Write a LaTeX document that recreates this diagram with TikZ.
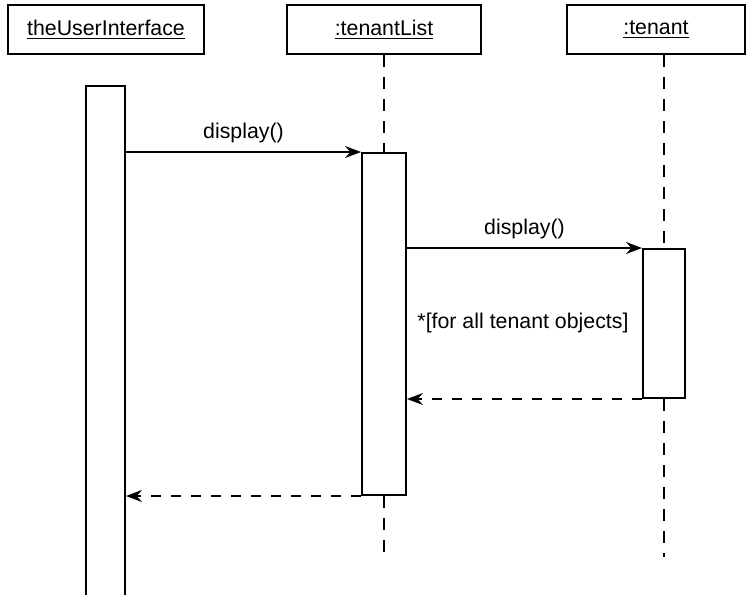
\documentclass[tikz,border=0pt]{standalone}
\usepackage{fontspec}
\setmainfont{Liberation Sans}
\usepackage{tikz}
\usetikzlibrary{arrows.meta, positioning}

\begin{document}
\begin{tikzpicture}[
  x=0.75pt,y=-0.75pt,
  every node/.style={font=\fontsize{16}{19}\selectfont},
  head/.style={draw, line width=1.5pt, minimum height=36.75pt, inner sep=0pt},
  act/.style={draw, line width=1.5pt, fill=white, inner sep=0pt},
  life/.style={line width=1.5pt, dash pattern=on 9pt off 7.5pt},
  call/.style={-{Stealth[length=12pt, width=9pt, inset=4pt]}, line width=1.5pt},
  ret/.style={-{Stealth[length=12pt, width=9pt, inset=4pt]}, line width=1.5pt, dash pattern=on 7.5pt off 7.5pt}
]
\useasboundingbox (0,0) rectangle (754,594);

% object heads
\node[head, minimum width=147pt] (uihead) at (106,29.5) {\underline{theUserInterface}};
\node[head, minimum width=145.5pt] (tlhead) at (384,29.5) {\underline{:tenantList}};
\node[head, minimum width=133.5pt] (thead) at (656,29.5) {\underline{:tenant}};

% activation bars
\node[act, minimum width=29.25pt, minimum height=393pt] (uiact) at (105.5,348) {};
\node[act, minimum width=33pt, minimum height=256.5pt] (tlact) at (384,324) {};
\node[act, minimum width=31.5pt, minimum height=111.75pt] (tact) at (664,323.5) {};

\coordinate (tlend) at (384,557);
\coordinate (tend) at (664,557);

% lifelines
\draw[life] (tlhead.south) -- (tlact.north);
\draw[life] (tlact.south) -- (tlend);
\draw[life] (tact.north |- thead.south) -- (tact.north);
\draw[life] (tact.south) -- (tend);

% messages
\draw[call] (uiact.east |- tlact.north west) -- node[above=3pt] (msg1) {display()} (tlact.north west);
\draw[call] (tlact.east |- tact.north west) -- node[above=3pt] (msg2) {display()} (tact.north west);
\node (loop) at (523,323) {*[for all tenant objects]};

% returns
\draw[ret] (tact.south west) -- (tlact.east |- tact.south west);
\draw[ret] (tlact.south west) -- (uiact.east |- tlact.south west);

\end{tikzpicture}
\end{document}
